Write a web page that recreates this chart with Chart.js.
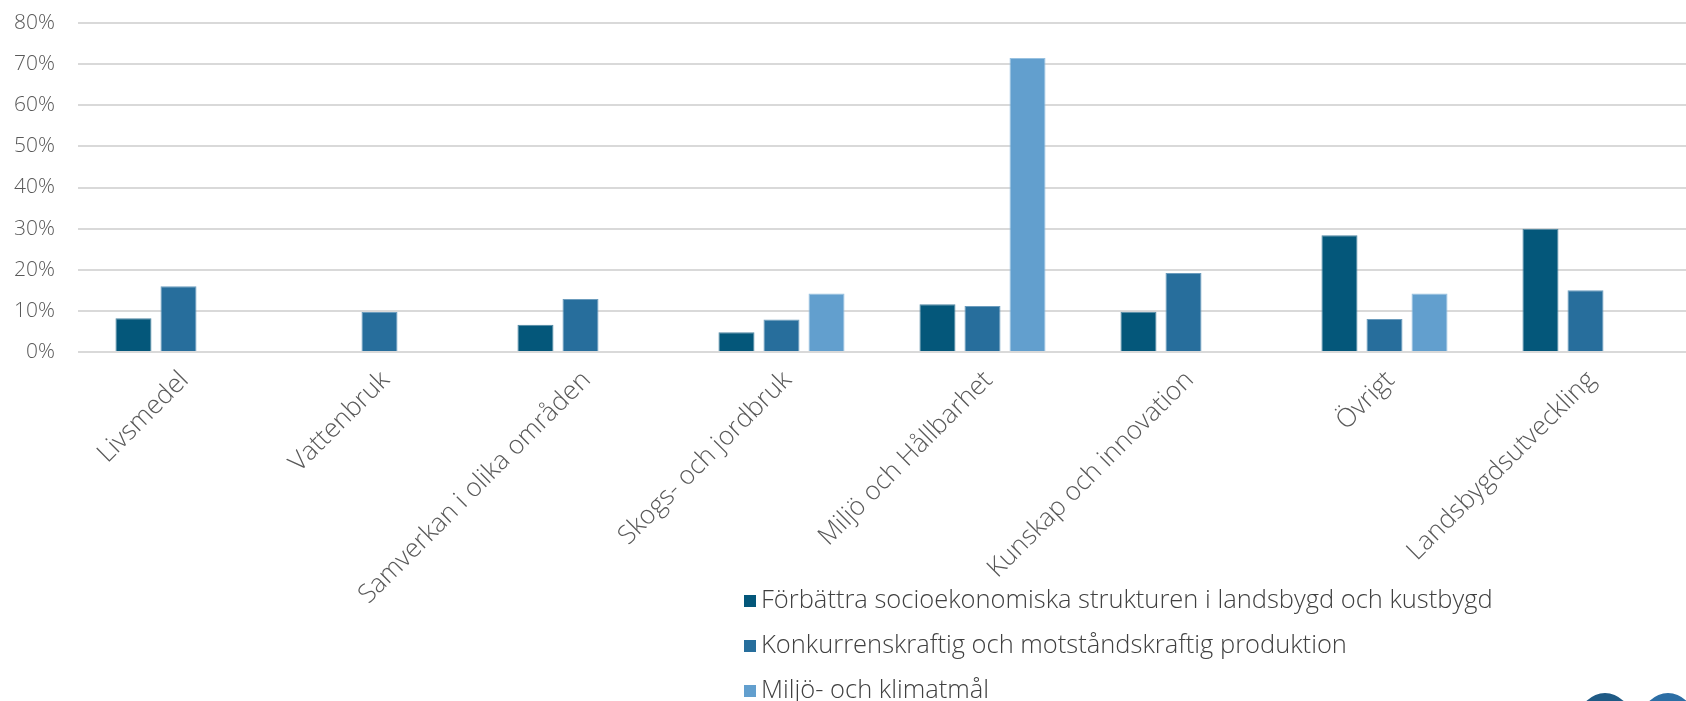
<!DOCTYPE html>
<html>
<head>
<meta charset="utf-8">
<script src="https://cdn.jsdelivr.net/npm/chart.js@4.4.1/dist/chart.umd.min.js"></script>
<style>
  html, body { margin: 0; padding: 0; background: #fff; overflow: hidden; }
  #wrap { position: relative; width: 1686px; height: 701px; }
  #legend { position: absolute; left: 744px; top: 582px; font-family: "Open Sans", sans-serif; font-weight: 300; font-size: 25.5px; color: #404040; }
  #legend div { height: 45px; line-height: 32px; white-space: nowrap; }
  #legend span.box { display: inline-block; width: 12px; height: 12px; margin-right: 5px; vertical-align: 1px; }
  .dot { position: absolute; width: 50px; height: 50px; border-radius: 25px; top: 693px; }
</style>
</head>
<body>
<div id="wrap">
  <canvas id="myChart" width="1686" height="701"></canvas>
  <div id="legend"></div>
  <div class="dot" style="left:1580px; background:#1f5a85;"></div>
  <div class="dot" style="left:1643px; background:#2c6ea5;"></div>
</div>
<script>
// kategorier och värden (procent)
const kategorier = ["Livsmedel", "Vattenbruk", "Samverkan i olika områden", "Skogs- och jordbruk",
  "Miljö och Hållbarhet", "Kunskap och innovation", "Övrigt", "Landsbygdsutveckling"];

const socioekonomiska = [8.2, null, 6.6, 4.8, 11.6, 9.8, 28.4, 30.0];
const konkurrenskraftig = [16.0, 9.7, 12.9, 7.9, 11.2, 19.2, 8.0, 15.0];
const miljoKlimat = [null, null, null, 14.2, 71.5, null, 14.2, null];

const yTicks = [0, 10, 20, 30, 40, 50, 60, 70, 80];

const serieNamn = ["Förbättra socioekonomiska strukturen i landsbygd och kustbygd",
  "Konkurrenskraftig och motståndskraftig produktion",
  "Miljö- och klimatmål"];
const farger = ["#04577a", "#276e9c", "#629fce"];
const kanter = ["#4f86a2", "#6b9cbd", "#98c1e0"];

const textFarg = "#595959";
const typsnitt = "Open Sans";

var ctx = document.getElementById("myChart").getContext("2d");
var myChart = new Chart(ctx, {
  type: "bar",
  data: {
    labels: kategorier,
    datasets: [
      { label: serieNamn[0], data: socioekonomiska, backgroundColor: farger[0], borderColor: kanter[0], borderWidth: 1 },
      { label: serieNamn[1], data: konkurrenskraftig, backgroundColor: farger[1], borderColor: kanter[1], borderWidth: 1 },
      { label: serieNamn[2], data: miljoKlimat, backgroundColor: farger[2], borderColor: kanter[2], borderWidth: 1 },
    ],
  },
  options: {
    responsive: false,
    animation: false,
    layout: { padding: { top: 23, right: 0, bottom: 0, left: 0 } },
    datasets: {
      bar: { categoryPercentage: 0.672, barPercentage: 0.8 },
    },
    plugins: {
      legend: { display: false },
      tooltip: { enabled: false },
    },
    scales: {
      x: {
        grid: { display: false, drawTicks: false },
        border: { display: false },
        ticks: {
          autoSkip: false,
          minRotation: 45,
          maxRotation: 45,
          padding: 13,
          labelOffset: 6,
          color: textFarg,
          font: { family: typsnitt, size: 26, weight: "300" },
        },
        afterFit: (axis) => { axis.height = 349; },
      },
      y: {
        min: 0,
        max: 80,
        afterBuildTicks: (axis) => { axis.ticks = yTicks.map((v) => ({ value: v })); },
        grid: { color: "#d9d9d9", lineWidth: 2, drawTicks: false },
        border: { display: false },
        ticks: {
          padding: 23,
          color: textFarg,
          font: { family: typsnitt, size: 21, weight: "300" },
          callback: (v) => v + "%",
        },
        afterFit: (axis) => {
          axis.width = 78;
          // padding för etiketterna ska inte trycka ner diagrammet
          axis.paddingTop = 0;
          axis.paddingBottom = 0;
        },
      },
    },
  },
});

// egen legend, en serie per rad
let legendDiv = document.getElementById("legend");
myChart.data.datasets.forEach((dataset) => {
  let rad = document.createElement("div");
  let ruta = document.createElement("span");
  ruta.className = "box";
  ruta.style.background = dataset.backgroundColor;
  rad.append(ruta);
  rad.append(dataset.label);
  legendDiv.append(rad);
});
</script>
</body>
</html>
